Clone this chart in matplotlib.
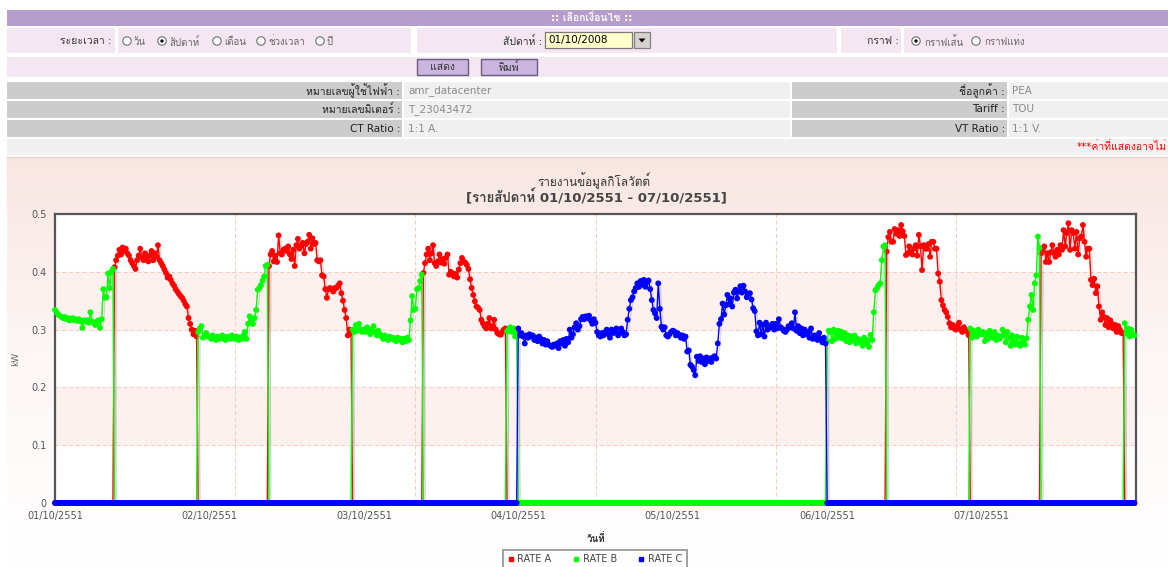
import matplotlib
matplotlib.use("Agg")
import matplotlib.pyplot as plt
import matplotlib.patheffects as pe
import numpy as np
from matplotlib import font_manager
from matplotlib.colors import LinearSegmentedColormap
from matplotlib.ft2font import FT2Font
from matplotlib.lines import Line2D
from matplotlib.patches import Circle, Polygon, Rectangle


def pick_thai_font():
    """Return the name of an installed family that has Thai glyphs."""
    for entry in font_manager.fontManager.ttflist:
        try:
            if 0x0E01 in FT2Font(entry.fname).get_charmap():
                return entry.name
        except (OSError, RuntimeError):
            continue
    return None


THAI = pick_thai_font()
plt.rcParams["font.family"] = ["DejaVu Sans"] + ([THAI] if THAI else [])

# 15-minute load readings (W), one list per day
wed_01 = [
    334, 330, 326, 324, 322, 320, 322, 318, 320, 316, 318, 320, 316, 318, 315, 318,
    314, 303, 316, 314, 316, 312, 330, 314, 312, 308, 314, 316, 303, 318, 370, 355,
    356, 397, 372, 400, 405, 408, 420, 428, 438, 430, 442, 436, 440, 432, 428, 420,
    415, 410, 405, 420, 428, 440, 425, 420, 432, 426, 418, 428, 436, 420, 432, 426,
    446, 420, 415, 410, 404, 398, 390, 392, 386, 380, 376, 370, 366, 362, 358, 355,
    350, 344, 340, 320, 310, 300, 292, 298, 288, 296, 302, 306, 286, 290, 294, 288,
]
thu_02 = [
    288, 284, 290, 286, 282, 288, 284, 286, 290, 284, 282, 288, 286, 284, 290, 286,
    284, 288, 282, 286, 284, 290, 296, 284, 310, 323, 316, 310, 320, 334, 369, 372,
    377, 385, 392, 410, 412, 410, 430, 436, 418, 428, 417, 463, 432, 430, 438, 440,
    436, 444, 430, 422, 438, 410, 446, 457, 440, 445, 450, 432, 448, 452, 464, 440,
    458, 448, 450, 420, 418, 420, 394, 392, 370, 355, 370, 372, 370, 366, 372, 372,
    376, 380, 363, 350, 334, 320, 290, 300, 294, 300, 296, 308, 298, 310, 300, 296,
]
fri_03 = [
    300, 296, 304, 298, 292, 300, 306, 296, 290, 298, 292, 288, 284, 290, 286, 282,
    288, 284, 286, 282, 280, 286, 282, 284, 278, 284, 280, 286, 282, 316, 358, 334,
    336, 370, 372, 384, 395, 398, 415, 430, 440, 420, 432, 446, 415, 410, 418, 430,
    416, 422, 414, 424, 430, 395, 400, 398, 392, 396, 390, 404, 415, 424, 418, 416,
    412, 405, 387, 372, 360, 349, 340, 338, 334, 317, 311, 306, 302, 310, 320, 302,
    306, 317, 300, 294, 292, 291, 296, 300, 302, 297, 300, 304, 296, 302, 288, 294,
]
sat_04 = [
    302, 290, 294, 288, 276, 290, 286, 292, 288, 290, 282, 286, 280, 288, 284, 276,
    282, 274, 280, 274, 272, 270, 274, 272, 276, 268, 280, 276, 282, 272, 284, 278,
    300, 286, 292, 304, 311, 300, 306, 318, 322, 318, 323, 320, 324, 316, 310, 318,
    312, 296, 290, 288, 294, 290, 296, 300, 292, 286, 300, 294, 298, 302, 290, 294,
    302, 296, 290, 292, 317, 336, 351, 356, 366, 372, 380, 374, 384, 378, 386, 374,
    382, 385, 370, 351, 334, 328, 320, 380, 336, 305, 300, 304, 290, 288, 292, 296,
]
sun_05 = [
    298, 297, 290, 294, 291, 286, 290, 284, 288, 262, 264, 239, 236, 230, 221, 253,
    246, 254, 244, 250, 240, 252, 246, 250, 244, 252, 254, 250, 276, 310, 318, 345,
    326, 342, 360, 344, 354, 340, 364, 369, 354, 366, 375, 364, 376, 366, 356, 362,
    363, 352, 337, 332, 297, 290, 312, 292, 308, 288, 312, 300, 306, 304, 310, 300,
    310, 302, 318, 304, 302, 298, 296, 300, 306, 304, 311, 302, 330, 298, 306, 294,
    302, 290, 300, 292, 296, 286, 302, 284, 290, 286, 282, 294, 284, 278, 286, 276,
]
mon_06 = [
    280, 298, 296, 280, 300, 284, 292, 298, 286, 296, 284, 294, 280, 290, 278, 288,
    282, 290, 276, 284, 278, 282, 272, 286, 276, 282, 270, 291, 282, 330, 368, 372,
    377, 380, 420, 444, 446, 435, 460, 469, 452, 452, 474, 466, 472, 462, 481, 470,
    462, 429, 432, 444, 434, 430, 440, 446, 428, 464, 444, 403, 446, 440, 440, 448,
    426, 452, 452, 440, 440, 397, 383, 351, 342, 334, 330, 322, 311, 304, 308, 302,
    300, 306, 312, 300, 296, 304, 300, 296, 290, 302, 286, 298, 292, 288, 300, 294,
]
tue_07 = [
    292, 296, 280, 294, 284, 298, 290, 286, 296, 282, 290, 284, 288, 300, 292, 278,
    296, 286, 272, 290, 280, 274, 288, 276, 272, 286, 280, 274, 285, 317, 340, 360,
    334, 380, 394, 461, 441, 432, 438, 444, 417, 432, 417, 434, 446, 432, 426, 438,
    430, 446, 438, 472, 444, 467, 484, 438, 472, 467, 440, 469, 430, 458, 461, 481,
    452, 426, 440, 440, 386, 377, 388, 363, 375, 340, 317, 330, 322, 308, 320, 304,
    316, 310, 302, 308, 296, 306, 300, 294, 294, 311, 294, 302, 288, 300, 292, 290,
]
days = [wed_01, thu_02, fri_03, sat_04, sun_05, mon_06, tue_07]
weekend = np.array([False, False, False, True, True, False, False])
day_labels = ["01/10/2551", "02/10/2551", "03/10/2551", "04/10/2551",
              "05/10/2551", "06/10/2551", "07/10/2551"]
y_ticks = [0, 0.1, 0.2, 0.3, 0.4, 0.5]
y_tick_labels = ["0", "0.1", "0.2", "0.3", "0.4", "0.5"]
rate_names = ["RATE A", "RATE B", "RATE C"]
rate_colors = ["#ff0000", "#00ff00", "#0000ff"]

# TOU split: peak 09:15-22:00 on weekdays, off-peak otherwise, holiday at weekends
kw = np.array(days, dtype=float) / 1000
slot = np.arange(96)
peak = (slot >= 37) & (slot <= 88)
workday = ~weekend[:, None]
rate_a = np.where(workday & peak, kw, 0).ravel()
rate_b = np.where(workday & ~peak, kw, 0).ravel()
rate_c = np.where(weekend[:, None], kw, 0).ravel()
x = np.arange(kw.size) / 96

W, H = 1168, 567
fig = plt.figure(figsize=(W / 100, H / 100), dpi=100)
bg = fig.add_axes([0, 0, 1, 1])
bg.axis("off")

GREY_TXT = "#333333"
VALUE_TXT = "#8a8a8a"
PINK = "#f4e7f2"


def box(x0, y0, x1, y1, **kw):
    bg.add_patch(Rectangle((x0, y0), x1 - x0, y1 - y0, **kw))


def txt(x0, y0, s, size=7.5, **kw):
    kw.setdefault("color", GREY_TXT)
    bg.text(x0, y0, s, fontsize=size, va="center", **kw)


def radio(cx, cy, checked=False):
    bg.add_patch(Circle((cx, cy), 4.2, fc="white", ec="#6e6e6e", lw=0.8))
    if checked:
        bg.add_patch(Circle((cx, cy), 1.7, fc="#111111", ec="none"))


# chart area gradient
grad = LinearSegmentedColormap.from_list("bg", ["#f8e6e2", "#fdf7f6", "#ffffff"])
bg.imshow(np.linspace(0, 1, 200).reshape(-1, 1), cmap=grad, aspect="auto",
          extent=(7, W, H, 157), zorder=0)

# header
box(7, 10, W, 26, fc="#b59dcc", ec="none")
txt(592, 18, ":: เลือกเงื่อนไข ::", color="white", weight="bold", ha="center")

box(7, 28, 115, 53, fc=PINK, ec="none")
box(118, 28, 411, 53, fc=PINK, ec="none")
box(417, 28, 837, 53, fc=PINK, ec="none")
box(841, 28, 901, 53, fc=PINK, ec="none")
box(904, 28, W, 53, fc=PINK, ec="none")
txt(112, 41, "ระยะเวลา :", ha="right")
for cx, label, checked in [(127, "วัน", False), (162, "สัปดาห์", True),
                           (217, "เดือน", False), (261, "ช่วงเวลา", False),
                           (320, "ปี", False)]:
    radio(cx, 41, checked)
    txt(cx + 7, 42, label, size=7, color="#666666", ha="left")

txt(542, 41, "สัปดาห์ :", ha="right")
box(545, 32, 632, 48, fc="#ffffcc", ec="#7a7a7a", lw=0.9)
txt(548, 40.5, "01/10/2008", color="#000000", ha="left")
box(634, 32, 650, 48, fc="#d6d3ce", ec="#808080", lw=0.9)
bg.add_patch(Polygon([(638.5, 38.5), (645.5, 38.5), (642, 42.5)], fc="black"))

txt(899, 41, "กราฟ :", ha="right")
radio(916, 41, True)
txt(924, 42, "กราฟเส้น", size=7, color="#666666", ha="left")
radio(976, 41)
txt(984, 42, "กราฟแท่ง", size=7, color="#666666", ha="left")

box(7, 57, W, 77, fc=PINK, ec="none")
box(417, 59, 468, 75, fc="#c9b5dd", ec="#6d5a80", lw=1)
box(481, 59, 537, 75, fc="#c9b5dd", ec="#6d5a80", lw=1)
txt(442.5, 67, "แสดง", ha="center")
txt(509, 67, "พิมพ์", ha="center")

info_rows = [
    (82, "หมายเลขผู้ใช้ไฟฟ้า :", "amr_datacenter", "ชื่อลูกค้า :", "PEA"),
    (101, "หมายเลขมิเตอร์ :", "T_23043472", "Tariff :", "TOU"),
    (120, "CT Ratio :", "1:1 A.", "VT Ratio :", "1:1 V."),
]
for top, left_label, left_value, right_label, right_value in info_rows:
    box(7, top, 402, top + 17, fc="#cccccc", ec="none")
    box(404, top, 790, top + 17, fc="#f0f0f0", ec="none")
    box(792, top, 1007, top + 17, fc="#cccccc", ec="none")
    box(1009, top, W, top + 17, fc="#f0f0f0", ec="none")
    txt(400, top + 8.5, left_label, color="#222222", ha="right")
    txt(408, top + 8.5, left_value, color=VALUE_TXT, ha="left")
    txt(1005, top + 8.5, right_label, color="#222222", ha="right")
    txt(1012, top + 8.5, right_value, color=VALUE_TXT, ha="left")

box(7, 139, W, 155, fc="#f0f0f0", ec="none")
txt(1167, 147, "***ค่าที่แสดงอาจไม่", color="#ff0000", ha="right")
bg.plot([7, W], [156.5, 156.5], color="#e2d4d4", lw=1)

# chart titles
txt(594, 181, "รายงานข้อมูลกิโลวัตต์", size=8.5, color="#333333", ha="center")
txt(596, 197, "[รายสัปดาห์ 01/10/2551 - 07/10/2551]", size=9.5,
    color="#444444", weight="bold", ha="center")

bg.set_xlim(0, W)
bg.set_ylim(H, 0)

# plot area
left, right, top, bottom = 55, 1136, 214, 503
ax = fig.add_axes([left / W, 1 - bottom / H, (right - left) / W, (bottom - top) / H])
ax.set_facecolor("white")
ax.axhspan(0.1, 0.2, color="#fcf1ef", zorder=0)
ax.axhspan(0.3, 0.4, color="#fcf1ef", zorder=0)

shadow = [pe.SimpleLineShadow(offset=(1.5, -1.5), shadow_color="#777777", alpha=0.25),
          pe.Normal()]
for series, color in zip([rate_a, rate_b, rate_c], rate_colors):
    ax.plot(x, series, color=color, lw=1.0, marker="o", ms=4.2, mew=0,
            clip_on=False, zorder=3, path_effects=shadow)

ax.set_xlim(0, 7)
ax.set_ylim(0, 0.5)
ax.set_xticks(range(7))
ax.set_xticklabels(day_labels)
ax.set_xticks(np.arange(1, 6) * 7 / 6, minor=True)
ax.set_yticks(y_ticks)
ax.set_yticklabels(y_tick_labels)
ax.tick_params(which="both", length=0, labelsize=7, labelcolor="#555555", pad=6)
ax.grid(which="minor", axis="x", color="#f6c9bd", ls=(0, (4, 3)), lw=0.7)
ax.grid(which="major", axis="y", color="#f6c9bd", ls=(0, (4, 3)), lw=0.7)
ax.set_axisbelow(True)
for spine in ax.spines.values():
    spine.set_color("#555555")
    spine.set_linewidth(1.6)

ax.set_ylabel("kW", fontsize=6.5, color="#666666")
ax.yaxis.set_label_coords(-(left - 20) / (right - left), 0.5)
ax.set_xlabel("วันที่", fontsize=7, color="#333333", weight="bold")
ax.xaxis.set_label_coords(0.5, -(533 - bottom) / (bottom - top))

handles = [Line2D([], [], color=c, marker="s", ms=3, ls="none") for c in rate_colors]
ax.legend(handles, rate_names, ncol=3, loc="upper center",
          bbox_to_anchor=(595 / W, 1 - 545 / H), bbox_transform=fig.transFigure,
          fontsize=7, frameon=True, fancybox=False, edgecolor="#8a8a8a",
          handlelength=0.6, handletextpad=0.4, columnspacing=2.2, borderpad=0.45,
          labelcolor="#444444")
ax.get_legend().get_frame().set_linewidth(1.4)

fig.savefig("out.png", dpi=100)
